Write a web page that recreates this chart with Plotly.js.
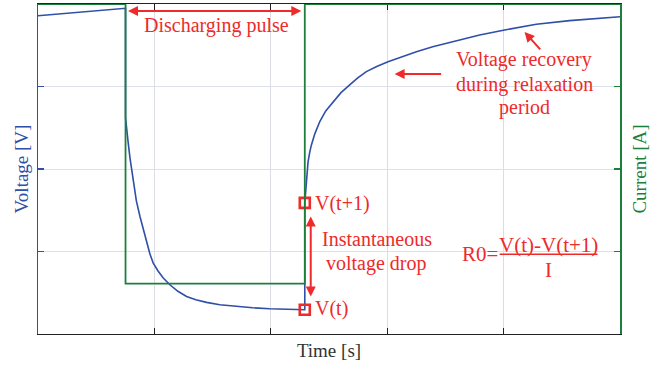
<!DOCTYPE html>
<html>
<head>
<meta charset="utf-8">
<script src="https://cdn.plot.ly/plotly-3.0.1.min.js"></script>
<style>html,body{margin:0;padding:0;background:#fff;}#chart{width:668px;height:370px;}</style>
</head>
<body>
<div id="chart"></div>
<script>
// Time axis (arbitrary units) and voltage readings
const timeS = [0, 0.189, 0.361, 0.532, 0.752, 0.752, 0.761, 0.775, 0.790, 0.804, 0.818, 0.845, 0.876, 0.933, 0.961, 0.990, 1.030, 1.076, 1.133, 1.202, 1.276, 1.356, 1.448, 1.562, 1.706, 1.845, 1.991, 2.292, 2.292, 2.300, 2.306, 2.320, 2.335, 2.349, 2.378, 2.421, 2.472, 2.535, 2.601, 2.678, 2.747, 2.821, 2.910, 3.007, 3.107, 3.251, 3.391, 3.536, 3.794, 4.009, 4.281, 4.567, 5.000];
const voltageV = [3.858, 3.881, 3.902, 3.922, 3.948, 2.619, 2.523, 2.317, 2.135, 1.990, 1.832, 1.614, 1.424, 1.102, 0.972, 0.860, 0.767, 0.678, 0.597, 0.518, 0.455, 0.415, 0.383, 0.355, 0.334, 0.318, 0.306, 0.294, 1.590, 1.723, 1.893, 2.087, 2.208, 2.292, 2.426, 2.575, 2.704, 2.817, 2.922, 3.019, 3.104, 3.180, 3.243, 3.301, 3.352, 3.422, 3.482, 3.536, 3.625, 3.685, 3.754, 3.798, 3.846];
// Current pulse
const currentT = [0, 0.752, 0.752, 2.292, 2.292, 5.0];
const currentA = [0, 0, -3.39, -3.39, 0, 0];
// Marked points: V(t) and V(t+1) (indices into the voltage series)
const markIdx = [27, 28];
const markLabels = ['V(t)', 'V(t+1)'];

const BLUE = '#2f4fa8', GREEN = '#1d7f3c', RED = '#ee2a2a', FONT = '"Liberation Serif", "Times New Roman", Times, serif';

const traces = [
  {x: timeS, y: voltageV, type: 'scatter', mode: 'lines', line: {color: BLUE, width: 1.6}, yaxis: 'y', hoverinfo: 'skip'},
  {x: markIdx.map(i => timeS[i]), y: markIdx.map(i => voltageV[i]), type: 'scatter', mode: 'markers',
   marker: {symbol: 'square-open', size: 10, color: RED, line: {color: RED, width: 2.6}}, yaxis: 'y', hoverinfo: 'skip'},
  {x: currentT, y: currentA, type: 'scatter', mode: 'lines', line: {color: GREEN, width: 1.8}, yaxis: 'y2', hoverinfo: 'skip'}
];

const redTxt = (x, y, text, size, xanchor) => ({x, y, xref: 'x', yref: 'y', text, showarrow: false,
  font: {family: FONT, size: size || 20, color: RED}, xanchor: xanchor || 'center', yanchor: 'middle'});
const arrow = (x, y, ax, ay, both) => ({x, y, ax, ay, xref: 'x', yref: 'y', axref: 'x', ayref: 'y', text: '',
  showarrow: true, arrowhead: 2, startarrowhead: 2, arrowsize: 1, startarrowsize: 1, arrowwidth: 2,
  arrowcolor: RED, arrowside: both ? 'end+start' : 'end', standoff: 0, startstandoff: 0});

const annotations = [
  arrow(0.773, 3.915, 2.275, 3.915, true),
  redTxt(1.532, 3.737, 'Discharging pulse'),
  redTxt(4.176, 3.326, 'Voltage recovery'),
  redTxt(4.176, 3.023, 'during relaxation'),
  redTxt(4.176, 2.741, 'period'),
  arrow(4.180, 3.661, 4.326, 3.431, false),
  arrow(3.064, 3.152, 3.476, 3.152, false),
  redTxt(2.365, 1.582, markLabels[1], 20, 'left'),
  redTxt(2.365, 0.312, markLabels[0], 20, 'left'),
  arrow(2.343, 1.424, 2.343, 0.436, true),
  redTxt(2.910, 1.146, 'Instantaneous'),
  redTxt(2.910, 0.855, 'voltage drop'),
  redTxt(3.794, 0.968, 'R0=', 21),
  redTxt(4.386, 1.078, 'V(t)-V(t+1)', 21),
  redTxt(4.386, 0.779, 'I', 21)
];

const layout = {
  width: 668, height: 370,
  margin: {l: 38, r: 48, t: 4, b: 36, pad: 0},
  paper_bgcolor: '#fff', plot_bgcolor: '#fff',
  showlegend: false,
  font: {family: FONT, size: 19, color: '#333'},
  xaxis: {range: [0, 5], tickvals: [1, 2, 3, 4], showticklabels: false, ticks: 'inside', ticklen: 6,
    tickcolor: '#222', tickwidth: 1.2, showline: true, linecolor: '#222', linewidth: 1.3, mirror: 'ticks',
    showgrid: true, gridcolor: '#dcdde4', gridwidth: 1, zeroline: false, layer: 'below traces',
    title: {text: 'Time [s]', font: {family: FONT, size: 19, color: '#333'}, standoff: 9}},
  yaxis: {range: [0, 4], tickvals: [0, 1, 2, 3, 4], showticklabels: false, ticks: 'inside', ticklen: 6,
    tickcolor: BLUE, tickwidth: 1.2, showline: true, linecolor: BLUE, linewidth: 1.5, mirror: false,
    showgrid: true, gridcolor: '#dde0ea', gridwidth: 1, zeroline: false, layer: 'below traces',
    title: {text: 'Voltage [V]', font: {family: FONT, size: 19, color: BLUE}, standoff: 3}},
  yaxis2: {range: [-4, 0], tickvals: [-4, -3, -2, -1, 0], showticklabels: false, ticks: 'inside', ticklen: 6,
    tickcolor: GREEN, tickwidth: 1.2, showline: true, linecolor: GREEN, linewidth: 1.5, overlaying: 'y', side: 'right',
    showgrid: false, zeroline: false,
    title: {text: 'Current [A]', font: {family: FONT, size: 19, color: GREEN}, standoff: 12}},
  shapes: [
    {type: 'line', xref: 'x', yref: 'y', x0: 3.966, x1: 4.807, y0: 0.966, y1: 0.966, line: {color: RED, width: 1.6}}
  ],
  annotations: annotations
};

Plotly.newPlot('chart', traces, layout, {displayModeBar: false, staticPlot: true});
</script>
</body>
</html>
